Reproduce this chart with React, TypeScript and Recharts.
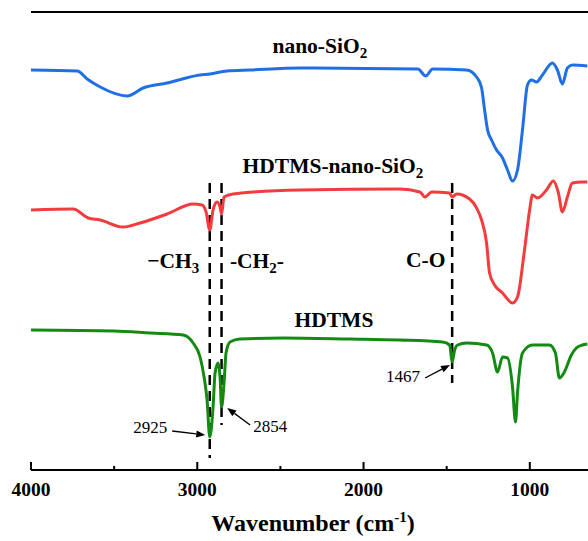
import { LineChart, Line, XAxis, YAxis, ReferenceLine, ReferenceDot } from 'recharts';

// wavenumber (cm-1) and offset transmittance (a.u.)
const nanoWave = [4000, 3722, 3662, 3584, 3422, 3326, 3182, 2984, 2924, 2821, 2683, 2382, 1673, 1626, 1584, 1380, 1320, 1290, 1272, 1254, 1230, 1200, 1164, 1134, 1104, 1074, 1044, 1014, 990, 960, 924, 864, 834, 804, 774, 744, 654];
const nanoValue = [400, 399, 391, 383, 374, 382, 387, 395, 396, 399, 400, 402, 401, 394, 401, 400, 393, 382, 360, 340, 330, 320, 312, 300, 289, 300, 340, 385, 390, 388, 395, 407, 400, 386, 402, 405, 404];

const hybridWave = [4000, 3746, 3656, 3584, 3446, 3344, 3182, 3025, 2971, 2947, 2925, 2905, 2881, 2863, 2854, 2839, 2785, 2382, 1782, 1661, 1631, 1590, 1482, 1467, 1440, 1362, 1320, 1290, 1260, 1242, 1212, 1164, 1104, 1074, 1032, 1001, 984, 954, 900, 858, 828, 804, 774, 744, 684, 654];
const hybridValue = [260, 261, 252, 250, 243, 247, 256, 266, 265, 258, 240, 260, 268, 263, 256, 273, 276, 280, 281, 278, 273, 278, 277, 273, 276, 271, 262, 250, 227, 197, 185, 177, 167, 173, 220, 260, 275, 272, 280, 289, 277, 258, 273, 287, 288, 288];

const hdtmsWave = [4000, 3500, 3283, 3085, 3025, 2983, 2959, 2941, 2925, 2905, 2893, 2875, 2863, 2854, 2839, 2827, 2803, 2743, 2485, 2083, 1782, 1524, 1482, 1467, 1452, 1434, 1380, 1260, 1224, 1194, 1164, 1134, 1104, 1086, 1074, 1044, 984, 882, 846, 822, 792, 750, 720, 684, 654];
const hdtmsValue = [140, 139, 137, 135, 127, 113, 93, 70, 33, 63, 97, 107, 93, 63, 87, 117, 128, 131, 132, 131, 130, 128, 125, 108, 120, 125, 127, 125, 117, 98, 113, 112, 83, 48, 77, 117, 125, 125, 117, 92, 98, 115, 122, 125, 126];

const majorTicks = [4000, 3000, 2000, 1000];
const minorTicks = [3500, 2500, 1500];
const peakMarks = [2925, 2854, 1467];

const zip = (w: number[], v: number[]) => w.map((x, i) => ({ w: x, v: v[i] }));
const nanoData = zip(nanoWave, nanoValue);
const hybridData = zip(hybridWave, hybridValue);
const hdtmsData = zip(hdtmsWave, hdtmsValue);

const serif = "'Liberation Serif', 'Times New Roman', Times, 'DejaVu Serif', serif";

const label = (content: React.ReactNode, anchor: string, size: number, bold = true) => (p: any) => (
  <text
    x={p.cx}
    y={p.cy}
    textAnchor={anchor}
    style={{ fontFamily: serif, fontSize: size, fontWeight: bold ? 700 : 400 }}
    fill="#000"
  >
    {content}
  </text>
);

const Sub = ({ s }: { s: string }) => (
  <tspan dy={5} style={{ fontSize: 15 }}>
    {s}
  </tspan>
);

const arrow = (p: any) => {
  const { x1, y1, x2, y2 } = p;
  const a = Math.atan2(y2 - y1, x2 - x1);
  const L = 9, W = 3.5;
  const bx = x2 - L * Math.cos(a), by = y2 - L * Math.sin(a);
  const pts = `${x2},${y2} ${bx - W * Math.sin(a)},${by + W * Math.cos(a)} ${bx + W * Math.sin(a)},${by - W * Math.cos(a)}`;
  return (
    <g>
      <line x1={x1} y1={y1} x2={bx} y2={by} stroke="#000" strokeWidth={1.3} />
      <polygon points={pts} fill="#000" />
    </g>
  );
};

export default function App() {
  return (
    <div style={{ position: 'absolute', left: 0, top: 0, width: 588, height: 541, background: '#fff', fontFamily: serif }}>
      <LineChart width={588} height={541} margin={{ top: 12, right: 0, left: 31, bottom: 0 }} style={{ fontFamily: serif }}>
        <XAxis
          type="number"
          dataKey="w"
          domain={[650, 4000]}
          reversed
          allowDataOverflow
          ticks={majorTicks}
          tickLine={false}
          tickSize={0}
          tickMargin={12}
          height={71}
          axisLine={{ stroke: '#000', strokeWidth: 2 }}
          tick={{ fill: '#000', fontSize: 19.5, fontWeight: 'bold', fontFamily: serif, style: { fontFamily: serif } }}
        />
        <YAxis type="number" domain={[0, 458]} width={0} tick={false} tickLine={false} axisLine={{ stroke: '#000', strokeWidth: 2 }} />
        <ReferenceLine y={458} stroke="#000" strokeWidth={2} />

        {majorTicks.map((t) => (
          <ReferenceLine key={'M' + t} segment={[{ x: t, y: 0 }, { x: t, y: 8 }]} stroke="#000" strokeWidth={2} />
        ))}
        {minorTicks.map((t) => (
          <ReferenceLine key={'m' + t} segment={[{ x: t, y: 0 }, { x: t, y: 4 }]} stroke="#000" strokeWidth={2} />
        ))}

        <ReferenceLine segment={[{ x: peakMarks[0], y: 287 }, { x: peakMarks[0], y: 12 }]} stroke="#000" strokeWidth={2.5} strokeDasharray="10 6" />
        <ReferenceLine segment={[{ x: peakMarks[1], y: 287 }, { x: peakMarks[1], y: 45 }]} stroke="#000" strokeWidth={2.5} strokeDasharray="10 6" />
        <ReferenceLine segment={[{ x: peakMarks[2], y: 287 }, { x: peakMarks[2], y: 87 }]} stroke="#000" strokeWidth={2.5} strokeDasharray="10 6" />

        <Line data={nanoData} dataKey="v" type="monotone" stroke="#1F6FE5" strokeWidth={3} dot={false} activeDot={false} isAnimationActive={false} />
        <Line data={hybridData} dataKey="v" type="monotone" stroke="#F23C3E" strokeWidth={3} dot={false} activeDot={false} isAnimationActive={false} />
        <Line data={hdtmsData} dataKey="v" type="monotone" stroke="#148A12" strokeWidth={3} dot={false} activeDot={false} isAnimationActive={false} />

        <ReferenceLine segment={[{ x: 3151, y: 39 }, { x: 2952, y: 35 }]} shape={arrow} />
        <ReferenceLine segment={[{ x: 2682, y: 45 }, { x: 2820, y: 62 }]} shape={arrow} />
        <ReferenceLine segment={[{ x: 1630, y: 92 }, { x: 1480, y: 105 }]} shape={arrow} />

        <ReferenceDot x={2263} y={417} ifOverflow="visible" shape={label(<>nano-SiO<Sub s="2" /></>, 'middle', 21.5)} />
        <ReferenceDot x={2184} y={297} ifOverflow="visible" shape={label(<>HDTMS-nano-SiO<Sub s="2" /></>, 'middle', 21.5)} />
        <ReferenceDot x={3145} y={202} ifOverflow="visible" shape={label(<>−CH<Sub s="3" /></>, 'middle', 21.5)} />
        <ReferenceDot
          x={2641}
          y={202}
          ifOverflow="visible"
          shape={label(<>-CH<Sub s="2" /><tspan dy={-5}>-</tspan></>, 'middle', 21.5)}
        />
        <ReferenceDot x={1626} y={203} ifOverflow="visible" shape={label('C-O', 'middle', 21.5)} />
        <ReferenceDot x={2178} y={143} ifOverflow="visible" shape={label('HDTMS', 'middle', 21.5)} />
        <ReferenceDot x={3181} y={37} ifOverflow="visible" shape={label('2925', 'end', 17, false)} />
        <ReferenceDot x={2664} y={38} ifOverflow="visible" shape={label('2854', 'start', 17, false)} />
        <ReferenceDot x={1661} y={88} ifOverflow="visible" shape={label('1467', 'end', 17, false)} />
        <ReferenceDot
          x={2304}
          y={-61}
          ifOverflow="visible"
          shape={label(
            <>
              Wavenumber (cm<tspan dy={-9} style={{ fontSize: 15 }}>-1</tspan>
              <tspan dy={9}>)</tspan>
            </>,
            'middle',
            24
          )}
        />
      </LineChart>
    </div>
  );
}
